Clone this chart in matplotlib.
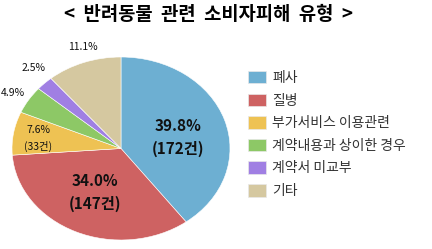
import matplotlib
matplotlib.use("Agg")
import matplotlib.pyplot as plt
from matplotlib.patches import Patch

plt.rcParams['font.family'] = ['Noto Sans CJK KR', 'DejaVu Sans']

title = "<  반려동물  관련  소비자피해  유형  >"
categories = ["폐사", "질병", "부가서비스 이용관련", "계약내용과 상이한 경우", "계약서 미교부", "기타"]
counts = [172, 147, 33, 21, 11, 48]
percents = [39.8, 34.0, 7.6, 4.9, 2.5, 11.1]
colors = ["#6DAFD2", "#CE6262", "#EEC253", "#8DC866", "#A07FE3", "#D5C8A0"]

fig = plt.figure(figsize=(4.32, 2.49), dpi=100)
ax = fig.add_axes([12/432, 9/249, 218/432, 183/249])
wedges, _ = ax.pie(counts, colors=colors, startangle=90, counterclock=False,
                   wedgeprops=dict(edgecolor="white", linewidth=0.4))
ax.set_aspect('auto')
ax.set_xlim(-1, 1)
ax.set_ylim(-1, 1)
ax.axis('off')

# label positions in pie units
big = dict(fontsize=11, fontweight='bold', ha='center', va='center', color='#111111', linespacing=1.5)
small = dict(fontsize=7.5, ha='center', va='center', color='#111111')
ax.text(0.52, 0.12, f"{percents[0]:.1f}%\n({counts[0]}건)", **big)
ax.text(-0.24, -0.48, f"{percents[1]:.1f}%\n({counts[1]}건)", **big)
ax.text(-0.76, 0.11, f"{percents[2]:.1f}%\n({counts[2]}건)", linespacing=1.6, **small)
ax.text(-0.99, 0.61, f"{percents[3]:.1f}%", clip_on=False, **small)
ax.text(-0.80, 0.88, f"{percents[4]:.1f}%", clip_on=False, **small)
ax.text(-0.35, 1.11, f"{percents[5]:.1f}%", clip_on=False, **small)

fig.text(209/432, 1 - 14/249, title, ha='center', va='center', fontsize=13.5, fontweight='bold')

handles = [Patch(facecolor=c, edgecolor='#e8e8e8', linewidth=0.5) for c in colors]
leg = fig.legend(handles, categories, loc='upper left', bbox_to_anchor=(248/432, 1 - 71/249),
                 frameon=False, fontsize=10, handlelength=1.3, handleheight=1.0,
                 labelspacing=0.62, handletextpad=0.45, borderpad=0, borderaxespad=0)
for t in leg.get_texts():
    t.set_color('#333333')

fig.savefig("out.png", dpi=100)
